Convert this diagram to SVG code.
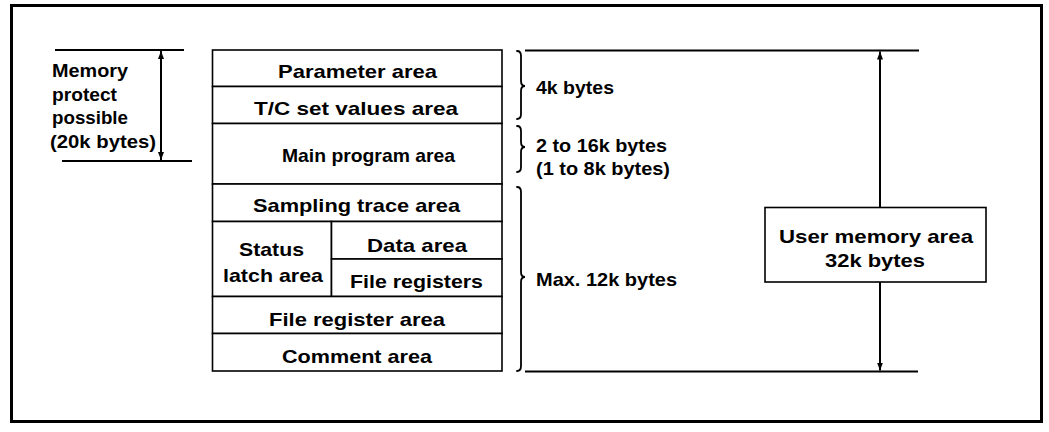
<svg xmlns="http://www.w3.org/2000/svg" width="1049" height="432" viewBox="0 0 1049 432">
  <style>
    .cell { fill: #fff; stroke: #000; stroke-width: 1.6; }
    .lbl { font-family: "Liberation Sans", Arial, sans-serif; font-weight: bold; font-size: 19px; fill: #000; }
    .dim { stroke: #000; stroke-width: 2; fill: none; }
    .brace { stroke: #000; stroke-width: 1.8; fill: none; stroke-linecap: round; }
  </style>
  <defs>
    <marker id="arrow" viewBox="0 0 8 6" refX="8" refY="3" markerWidth="8" markerHeight="6" markerUnits="userSpaceOnUse" orient="auto-start-reverse">
      <path d="M0,0 L8,3 L0,6 z" fill="#000"/>
    </marker>
  </defs>

  <rect width="1049" height="432" fill="#fff"/>
  <!-- outer frame -->
  <rect x="11.5" y="5.5" width="1030" height="416" fill="none" stroke="#000" stroke-width="3"/>

  <!-- memory map -->
  <g id="parameter-area">
    <rect class="cell" x="212.5" y="50" width="289.5" height="36.5"/>
    <text class="lbl" x="278" y="78" textLength="159" lengthAdjust="spacingAndGlyphs">Parameter area</text>
  </g>
  <g id="tc-set-values-area">
    <rect class="cell" x="212.5" y="86.5" width="289.5" height="37"/>
    <text class="lbl" x="254" y="115" textLength="204" lengthAdjust="spacingAndGlyphs">T/C set values area</text>
  </g>
  <g id="main-program-area">
    <rect class="cell" x="212.5" y="123.5" width="289.5" height="60.5"/>
    <text class="lbl" x="282" y="162" textLength="173" lengthAdjust="spacingAndGlyphs">Main program area</text>
  </g>
  <g id="sampling-trace-area">
    <rect class="cell" x="212.5" y="184" width="289.5" height="37.5"/>
    <text class="lbl" x="253" y="212" textLength="207" lengthAdjust="spacingAndGlyphs">Sampling trace area</text>
  </g>
  <g id="status-latch-area">
    <rect class="cell" x="212.5" y="221.5" width="119" height="75"/>
    <text class="lbl" x="239" y="256" textLength="65" lengthAdjust="spacingAndGlyphs">Status</text>
    <text class="lbl" x="223" y="282" textLength="100" lengthAdjust="spacingAndGlyphs">latch area</text>
  </g>
  <g id="data-area">
    <rect class="cell" x="331.5" y="221.5" width="170.5" height="37.5"/>
    <text class="lbl" x="367" y="252" textLength="100" lengthAdjust="spacingAndGlyphs">Data area</text>
  </g>
  <g id="file-registers">
    <rect class="cell" x="331.5" y="259" width="170.5" height="37.5"/>
    <text class="lbl" x="350" y="288" textLength="133" lengthAdjust="spacingAndGlyphs">File registers</text>
  </g>
  <g id="file-register-area">
    <rect class="cell" x="212.5" y="296.5" width="289.5" height="37"/>
    <text class="lbl" x="269" y="326" textLength="176" lengthAdjust="spacingAndGlyphs">File register area</text>
  </g>
  <g id="comment-area">
    <rect class="cell" x="212.5" y="333.5" width="289.5" height="37.5"/>
    <text class="lbl" x="282" y="363" textLength="150" lengthAdjust="spacingAndGlyphs">Comment area</text>
  </g>

  <!-- size annotations -->
  <g id="memory-protect-label">
    <text class="lbl" x="52" y="77" textLength="76" lengthAdjust="spacingAndGlyphs">Memory</text>
    <text class="lbl" x="52" y="100.5" textLength="65" lengthAdjust="spacingAndGlyphs">protect</text>
    <text class="lbl" x="52" y="124" textLength="76" lengthAdjust="spacingAndGlyphs">possible</text>
    <text class="lbl" x="50" y="147.5" textLength="106" lengthAdjust="spacingAndGlyphs">(20k bytes)</text>
  </g>
  <g id="size-4k">
    <text class="lbl" x="536" y="94" textLength="78" lengthAdjust="spacingAndGlyphs">4k bytes</text>
  </g>
  <g id="size-main">
    <text class="lbl" x="536" y="152" textLength="131" lengthAdjust="spacingAndGlyphs">2 to 16k bytes</text>
    <text class="lbl" x="536" y="175" textLength="134" lengthAdjust="spacingAndGlyphs">(1 to 8k bytes)</text>
  </g>
  <g id="size-max">
    <text class="lbl" x="536" y="286" textLength="141" lengthAdjust="spacingAndGlyphs">Max. 12k bytes</text>
  </g>
  <g id="user-memory-area">
    <rect class="cell" x="765" y="207.5" width="221" height="74.5"/>
    <text class="lbl" x="779" y="243" textLength="194" lengthAdjust="spacingAndGlyphs">User memory area</text>
    <text class="lbl" x="825" y="267" textLength="100" lengthAdjust="spacingAndGlyphs">32k bytes</text>
  </g>

  <g id="connectors">
    <!-- memory protect range -->
    <line class="dim" x1="55" y1="50" x2="184" y2="50"/>
    <line class="dim" x1="62" y1="161" x2="192" y2="161"/>
    <line class="dim" x1="161" y1="105" x2="161" y2="51" marker-end="url(#arrow)"/>
    <line class="dim" x1="161" y1="105" x2="161" y2="160" marker-end="url(#arrow)"/>

    <!-- user memory range -->
    <line class="dim" x1="525" y1="50.5" x2="919" y2="50.5"/>
    <line class="dim" x1="525" y1="371.5" x2="918" y2="371.5"/>
    <line class="dim" x1="880" y1="207.5" x2="880" y2="51.5" marker-end="url(#arrow)"/>
    <line class="dim" x1="880" y1="282" x2="880" y2="370.5" marker-end="url(#arrow)"/>

    <!-- braces -->
    <path class="brace" d="M517,51 Q521,51 521,56 L521,81 Q521,86 525,86 Q521,86 521,91 L521,114 Q521,119 517,119"/>
    <path class="brace" d="M517,126 Q521,126 521,131 L521,142 Q521,147 525,147 Q521,147 521,152 L521,167 Q521,172 517,172"/>
    <path class="brace" d="M517,187 Q521,187 521,192 L521,272 Q521,277 525,277 Q521,277 521,282 L521,366 Q521,371 517,371"/>
  </g>
</svg>
